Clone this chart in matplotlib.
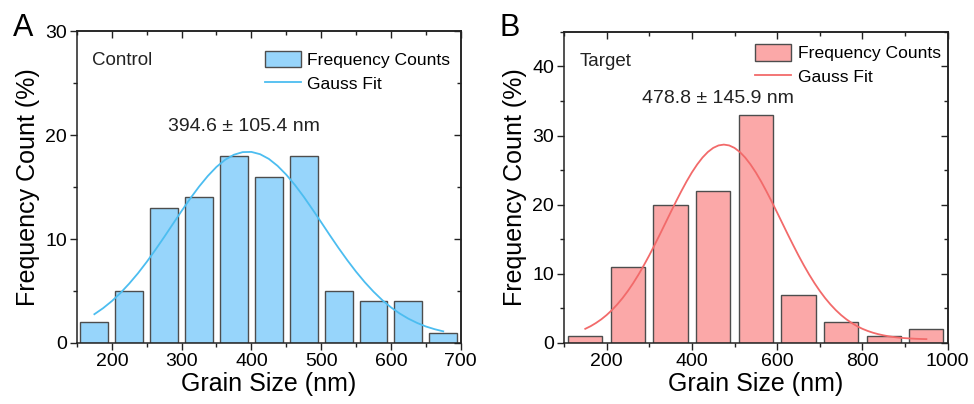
import matplotlib
matplotlib.use("Agg")
import matplotlib.pyplot as plt
from matplotlib.ticker import MultipleLocator

plt.rcParams["font.family"] = ["Liberation Sans", "DejaVu Sans"]

# ======================
# Data
# ======================
control_bins = [175, 225, 275, 325, 375, 425, 475, 525, 575, 625, 675]
control_counts = [2, 5, 13, 14, 18, 16, 18, 5, 4, 4, 1]
control_fit_x = [175, 187.5, 200, 212.5, 225, 237.5, 250, 262.5, 275, 287.5,
                 300, 312.5, 325, 337.5, 350, 362.5, 375, 387.5, 400, 412.5,
                 425, 437.5, 450, 462.5, 475, 487.5, 500, 512.5, 525, 537.5,
                 550, 562.5, 575, 587.5, 600, 612.5, 625, 637.5, 650, 662.5, 675]
control_fit_y = [2.77, 3.35, 4.03, 4.82, 5.72, 6.71, 7.80, 8.97, 10.19, 11.45,
                 12.70, 13.91, 15.04, 16.06, 16.94, 17.63, 18.11, 18.36, 18.38, 18.16,
                 17.71, 17.04, 16.19, 15.19, 14.07, 12.86, 11.62, 10.36, 9.13, 7.96,
                 6.86, 5.85, 4.94, 4.13, 3.43, 2.84, 2.34, 1.93, 1.59, 1.33, 1.12]

target_bins = [150, 250, 350, 450, 550, 650, 750, 850, 950]
target_counts = [1, 11, 20, 22, 33, 7, 3, 1, 2]
target_fit_x = [150, 162.5, 175, 187.5, 200, 212.5, 225, 237.5, 250, 262.5,
                275, 287.5, 300, 312.5, 325, 337.5, 350, 362.5, 375, 387.5,
                400, 412.5, 425, 437.5, 450, 462.5, 475, 487.5, 500, 512.5,
                525, 537.5, 550, 562.5, 575, 587.5, 600, 612.5, 625, 637.5,
                650, 662.5, 675, 687.5, 700, 712.5, 725, 737.5, 750, 762.5,
                775, 787.5, 800, 812.5, 825, 837.5, 850, 862.5, 875, 887.5,
                900, 912.5, 925, 937.5, 950]
target_fit_y = [2.05, 2.43, 2.89, 3.42, 4.04, 4.76, 5.58, 6.50, 7.53, 8.67,
                9.91, 11.25, 12.67, 14.17, 15.71, 17.29, 18.87, 20.43, 21.93, 23.36,
                24.67, 25.83, 26.83, 27.63, 28.22, 28.58, 28.70, 28.58, 28.22, 27.63,
                26.83, 25.83, 24.67, 23.36, 21.93, 20.43, 18.87, 17.29, 15.71, 14.17,
                12.67, 11.25, 9.91, 8.67, 7.53, 6.50, 5.58, 4.76, 4.04, 3.42,
                2.89, 2.43, 2.05, 1.74, 1.48, 1.27, 1.10, 0.96, 0.85, 0.76,
                0.70, 0.65, 0.61, 0.58, 0.56]

# ======================
# Styles
# ======================
EDGE = "#4d4d4d"
SPINE = "#222222"
TICK_FS = 14
LABEL_FS = 18
LEG_FS = 12.6

panels = [
    dict(letter="A", tag="Control", bins=control_bins, counts=control_counts,
         fx=control_fit_x, fy=control_fit_y, bin_w=50,
         bar_c="#97d5fb", line_c="#4cbdf0",
         xlim=(150, 700), ylim=(0, 30), xmaj=100, xmin=50, ymaj=10, ymin=5,
         note="394.6 \u00b1 105.4 nm", note_xy=(390, 20.8),
         rect=[0.079, 0.151, 0.394, 0.772], leg_anchor=(0.489, 0.937)),
    dict(letter="B", tag="Target", bins=target_bins, counts=target_counts,
         fx=target_fit_x, fy=target_fit_y, bin_w=100,
         bar_c="#fba8a8", line_c="#f26a6a",
         xlim=(100, 1000), ylim=(0, 45), xmaj=200, xmin=100, ymaj=10, ymin=5,
         note="478.8 \u00b1 145.9 nm", note_xy=(462, 35.4),
         rect=[0.579, 0.151, 0.394, 0.770], leg_anchor=(0.497, 0.96)),
]

fig = plt.figure(figsize=(9.74, 4.04), dpi=100)

for p in panels:
    ax = fig.add_axes(p["rect"])
    bars = ax.bar(p["bins"], p["counts"], width=0.8 * p["bin_w"], color=p["bar_c"],
                  edgecolor=EDGE, linewidth=1.0, zorder=2)
    line, = ax.plot(p["fx"], p["fy"], color=p["line_c"], linewidth=1.3, zorder=3)

    ax.set_xlim(*p["xlim"])
    ax.set_ylim(*p["ylim"])
    ax.xaxis.set_major_locator(MultipleLocator(p["xmaj"]))
    ax.xaxis.set_minor_locator(MultipleLocator(p["xmin"]))
    ax.yaxis.set_major_locator(MultipleLocator(p["ymaj"]))
    ax.yaxis.set_minor_locator(MultipleLocator(p["ymin"]))
    ax.tick_params(which="major", direction="out", length=5, width=1,
                   labelsize=TICK_FS, pad=2, color=SPINE)
    ax.tick_params(which="minor", direction="out", length=3, width=1, color=SPINE)
    for s in ax.spines.values():
        s.set_linewidth(1.1)
        s.set_color(SPINE)

    # mirrored inward ticks on top and right
    top = ax.secondary_xaxis("top")
    top.xaxis.set_major_locator(MultipleLocator(p["xmaj"]))
    top.xaxis.set_minor_locator(MultipleLocator(p["xmin"]))
    top.tick_params(which="major", direction="in", length=5, width=1, labeltop=False, color=SPINE)
    top.tick_params(which="minor", direction="in", length=3, width=1, color=SPINE)
    right = ax.secondary_yaxis("right")
    right.yaxis.set_major_locator(MultipleLocator(p["ymaj"]))
    right.yaxis.set_minor_locator(MultipleLocator(p["ymin"]))
    right.tick_params(which="major", direction="in", length=5, width=1, labelright=False, color=SPINE)
    right.tick_params(which="minor", direction="in", length=3, width=1, color=SPINE)
    for sec in (top, right):
        for s in sec.spines.values():
            s.set_linewidth(1.1)
            s.set_color(SPINE)

    ax.set_xlabel("Grain Size (nm)", fontsize=LABEL_FS, labelpad=2)
    ax.set_ylabel("Frequency Count (%)", fontsize=LABEL_FS, labelpad=4)

    ax.text(0.04, 0.905, p["tag"], transform=ax.transAxes, fontsize=13.5,
            ha="left", va="center", color=SPINE)
    ax.text(p["note_xy"][0], p["note_xy"][1], p["note"], fontsize=14,
            ha="center", va="center", color=SPINE)

    ax.legend([bars, line], ["Frequency Counts", "Gauss Fit"],
              loc="upper left", bbox_to_anchor=p["leg_anchor"], frameon=False,
              fontsize=LEG_FS, handlelength=2.1, handleheight=1.05,
              handletextpad=0.35, labelspacing=0.38, borderpad=0.0,
              borderaxespad=0.0)

    x0 = p["rect"][0]
    fig.text(x0 - 0.066, 0.968, p["letter"], fontsize=22, ha="left", va="top")

fig.savefig("out.png", dpi=100)
